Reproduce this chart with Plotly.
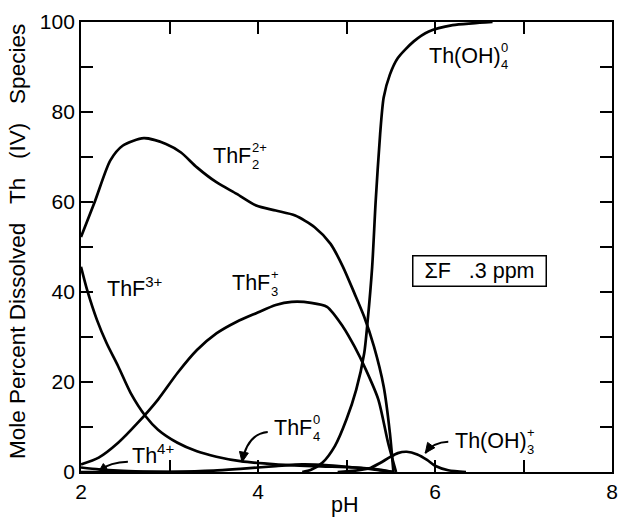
import math
import plotly.graph_objects as go

# ---- data ----
ph_thf2 = [2.0, 2.16, 2.33, 2.47, 2.71, 2.96, 3.13, 3.31, 3.53, 3.76, 3.98, 4.2, 4.42, 4.64, 4.82, 4.96, 5.09, 5.2, 5.31, 5.42, 5.49, 5.53]
thf2 = [52.2, 60.3, 69.2, 72.5, 74.2, 72.9, 71.0, 67.7, 64.4, 61.8, 59.2, 58.1, 57.0, 54.4, 50.7, 45.6, 39.7, 34.5, 27.9, 19.0, 8.7, 0.0]

ph_thf3 = [2.0, 2.2, 2.42, 2.64, 2.87, 3.09, 3.31, 3.53, 3.76, 3.98, 4.2, 4.38, 4.6, 4.78, 4.96, 5.09, 5.22, 5.36, 5.47, 5.56]
thf3 = [1.7, 3.2, 6.5, 10.9, 16.1, 22.0, 27.1, 30.8, 33.4, 35.3, 37.1, 37.8, 37.6, 36.7, 32.3, 27.9, 22.7, 16.1, 6.5, 0.0]

ph_thf = [2.0, 2.07, 2.18, 2.29, 2.42, 2.56, 2.73, 2.87, 3.09, 3.31, 3.53, 3.8, 4.2, 4.64, 5.09, 5.31, 5.53]
thf = [45.6, 40.4, 33.8, 28.6, 23.5, 17.6, 12.4, 9.4, 6.5, 4.6, 3.4, 2.4, 1.7, 1.3, 1.0, 0.7, 0.0]

ph_th = [2.0, 2.2, 2.42, 2.7, 3.0, 3.5]
th = [1.0, 0.6, 0.3, 0.1, 0.0, 0.0]

ph_thf4 = [2.0, 3.0, 3.5, 3.8, 4.2, 4.5, 4.8, 5.1, 5.3, 5.53]
thf4 = [0.0, 0.05, 0.3, 0.7, 1.3, 1.7, 1.5, 1.0, 0.6, 0.0]

ph_oh4 = [4.5, 4.6, 4.73, 4.87, 5.0, 5.11, 5.2, 5.24, 5.29, 5.33, 5.38, 5.42, 5.49, 5.58, 5.76, 5.93, 6.2, 6.42, 6.65]
oh4 = [0.0, 0.5, 2.1, 5.8, 11.7, 18.3, 26.4, 33.8, 45.6, 60.3, 75.1, 83.2, 88.3, 92.0, 95.7, 97.9, 99.3, 99.7, 100.0]

ph_oh3 = [4.9, 5.1, 5.27, 5.38, 5.49, 5.58, 5.68, 5.8, 5.91, 6.0, 6.15, 6.35]
oh3 = [0.0, 0.3, 0.9, 2.0, 3.3, 4.2, 4.5, 3.9, 2.7, 1.4, 0.4, 0.0]

x_label_vals = [2, 4, 6, 8]
y_label_vals = [0, 20, 40, 60, 80, 100]

FONT = "Liberation Sans, Arial, Helvetica, sans-serif"
LW = 2.7
L, R, T, B = 81, 6, 22, 47
PW, PH = 618 - L - R, 519 - T - B
XR, YR = (2, 8), (0, 100)
SX = PW / (XR[1] - XR[0])   # px per pH unit
SY = PH / (YR[1] - YR[0])   # px per percent

fig = go.Figure()
for xs, ys in [(ph_thf2, thf2), (ph_thf3, thf3), (ph_thf, thf), (ph_th, th),
               (ph_thf4, thf4), (ph_oh4, oh4), (ph_oh3, oh3)]:
    fig.add_trace(go.Scatter(x=xs, y=ys, mode="lines",
                             line=dict(color="black", width=LW, shape="spline", smoothing=0.7),
                             showlegend=False, hoverinfo="skip", cliponaxis=True))

ann = []
BASE = 21.5
SMALL = 13

def label(x, y, base, base_px, sup=None, sub=None):
    ann.append(dict(x=x, y=y, text=base, showarrow=False, xanchor="left", yanchor="middle",
                    font=dict(family=FONT, size=BASE, color="black")))
    if sup is not None and sub is not None:
        ann.append(dict(x=x, y=y, text=sup + "<br>" + sub, showarrow=False, xanchor="left",
                        yanchor="middle", xshift=base_px + 1, yshift=0, align="left",
                        font=dict(family=FONT, size=SMALL, color="black")))

label(3.467, 70.3, "ThF", 38, "2+", "2")
label(2.267, 41.2, "ThF<sup>3+</sup>", 0)
label(3.689, 41.9, "ThF", 38, "+", "3")
label(5.911, 92.4, "Th(OH)", 71, "0", "4")
label(4.156, 9.8, "ThF", 38, "0", "4")
label(2.556, 3.9, "Th<sup>4+</sup>", 0)
label(6.2, 6.8, "Th(OH)", 71, "+", "3")

ann.append(dict(x=6.5, y=44.6, text="ΣF\u00a0\u00a0\u00a0.3\u00a0ppm", showarrow=False,
                xanchor="center", yanchor="middle", width=128, height=25,
                bordercolor="black", borderwidth=1.5, borderpad=2,
                font=dict(family=FONT, size=BASE, color="black")))

# axis titles
ann.append(dict(xref="paper", yref="paper", x=(344 - L) / PW, y=-(505 - (T + PH)) / PH,
                text="pH", showarrow=False, xanchor="center", yanchor="middle",
                font=dict(family=FONT, size=21.5, color="black")))
ann.append(dict(xref="paper", yref="paper", x=(17 - L) / PW, y=((T + PH) - 242) / PH,
                text="Mole Percent Dissolved\u00a0\u00a0\u00a0Th\u00a0\u00a0\u00a0(IV)\u00a0\u00a0\u00a0Species",
                textangle=-90, showarrow=False, xanchor="center", yanchor="middle",
                font=dict(family=FONT, size=22.5, color="black")))

# curved leader lines with triangular arrowheads
shapes = []
def leader(x0, y0, cx, cy, x1, y1, head_len=10, head_w=4.5):
    shapes.append(dict(type="path", xref="x", yref="y",
                       path=f"M {x0},{y0} Q {cx},{cy} {x1},{y1}",
                       line=dict(color="black", width=2)))
    # direction (in pixels) from control point to tip
    dx = (x1 - cx) * SX
    dy = (y1 - cy) * SY
    n = math.hypot(dx, dy)
    ux, uy = dx / n, dy / n
    bx, by = -ux * head_len, -uy * head_len
    px, py = -uy * head_w, ux * head_w
    p1 = (x1 + (bx + px) / SX, y1 + (by + py) / SY)
    p2 = (x1 + (bx - px) / SX, y1 + (by - py) / SY)
    shapes.append(dict(type="path", xref="x", yref="y",
                       path=f"M {x1},{y1} L {p1[0]},{p1[1]} L {p2[0]},{p2[1]} Z",
                       fillcolor="black", line=dict(color="black", width=1)))

leader(4.11, 8.9, 3.88, 8.5, 3.82, 2.2)
leader(2.53, 2.3, 2.33, 2.2, 2.21, 0.4, head_len=7, head_w=3)
leader(6.15, 6.7, 5.98, 6.6, 5.89, 4.2)

axis_common = dict(ticks="inside", ticklen=12, tickwidth=1.5, tickcolor="black",
                   showline=True, linecolor="black", linewidth=1.8, mirror="ticks",
                   showgrid=False, zeroline=False, automargin=False,
                   tickfont=dict(family=FONT, size=21))

fig.update_layout(
    width=618, height=519,
    margin=dict(l=L, r=R, t=T, b=B, autoexpand=False),
    paper_bgcolor="white", plot_bgcolor="white",
    font=dict(family=FONT, size=21, color="black"),
    annotations=ann, shapes=shapes,
    xaxis=dict(range=list(XR), tickmode="array", tickvals=x_label_vals,
               minor=dict(dtick=1, tick0=2, ticks="inside", ticklen=12, tickwidth=1.5,
                          tickcolor="black", showgrid=False),
               **axis_common),
    yaxis=dict(range=list(YR), tickmode="array", tickvals=y_label_vals,
               minor=dict(dtick=10, tick0=0, ticks="inside", ticklen=12, tickwidth=1.5,
                          tickcolor="black", showgrid=False),
               **axis_common),
)

fig.write_html("out.html", config={"displayModeBar": False},
               post_script="document.body.style.margin='0';document.body.style.padding='0';")
